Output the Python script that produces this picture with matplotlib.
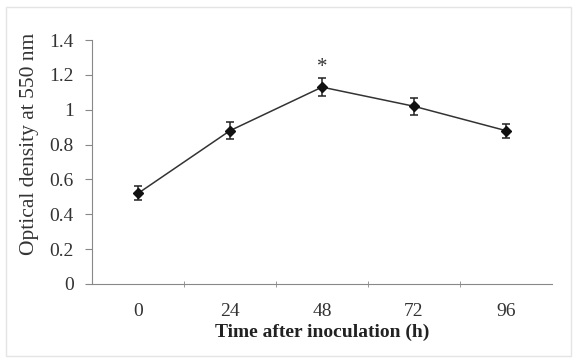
import matplotlib
matplotlib.use("Agg")
import matplotlib.pyplot as plt
import numpy as np

hours = ["0", "24", "48", "72", "96"]
od550 = [0.52, 0.88, 1.13, 1.02, 0.88]
od_err = [0.04, 0.05, 0.05, 0.05, 0.04]

plt.rcParams["font.family"] = ["Liberation Serif", "DejaVu Serif"]

fig = plt.figure(figsize=(5.77, 3.61), dpi=100)
fig.patches.append(plt.Rectangle((0.01, 0.015), 0.98, 0.965, transform=fig.transFigure,
                                 fill=False, edgecolor="#e4e4e4", linewidth=1))
ax = fig.add_axes([0.1594, 0.2133, 0.7973, 0.6757])

x = np.arange(len(hours))
ax.errorbar(x, od550, yerr=od_err, color="#333333", ecolor="#222222", marker="D",
            markersize=5, markerfacecolor="#111111", markeredgecolor="#111111",
            linewidth=1.1, elinewidth=1.1, capsize=3, capthick=1.1)
ax.text(2, 1.19, "*", ha="center", va="bottom", fontsize=15, color="#333333")

ax.set_xlim(-0.5, 4.5)
ax.set_ylim(0, 1.4)
ax.set_yticks(np.arange(0, 1.41, 0.2))
ax.set_yticklabels(["0", "0.2", "0.4", "0.6", "0.8", "1", "1.2", "1.4"])
ax.set_xticks(x)
ax.set_xticklabels(hours)
ax.set_xticks(np.arange(0.5, 4, 1), minor=True)
ax.tick_params(axis="x", which="major", length=0, pad=14, labelsize=14, colors="#333333")
ax.tick_params(axis="x", which="minor", length=4, direction="inout", color="#888888")
ax.tick_params(axis="y", length=5, pad=8, labelsize=14, colors="#333333", color="#888888")
for s in ["top", "right"]:
    ax.spines[s].set_visible(False)
for s in ["left", "bottom"]:
    ax.spines[s].set_color("#888888")

ax.set_ylabel("Optical density at 550 nm", fontsize=15.5, color="#333333")
ax.yaxis.set_label_coords(-0.115, 0.575)
ax.set_xlabel("Time after inoculation (h)", fontsize=14, fontweight="bold", color="#222222", labelpad=2)

fig.savefig("out.png", dpi=100)
